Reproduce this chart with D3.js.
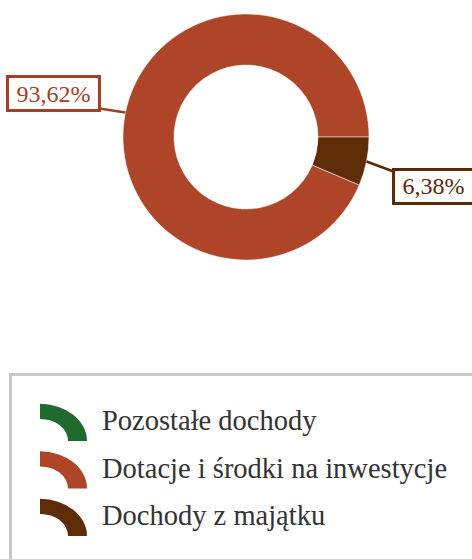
<!DOCTYPE html>
<html><head><meta charset="utf-8">
<script src="https://cdn.jsdelivr.net/npm/d3@7"></script>
<style>html,body{margin:0;padding:0;background:#fff;}svg{display:block;}</style>
</head><body>
<svg id="c" width="472" height="559"></svg>
<script>
const categories = ["Pozostałe dochody", "Dotacje i środki na inwestycje", "Dochody z majątku"];
const values = [0, 93.62, 6.38];
const labels = ["0,00%", "93,62%", "6,38%"];
const colors = ["#1f6a2f", "#ae4428", "#5e2d07"];
const textColors = ["#1f6a2f", "#a33f27", "#5a2a06"];

const svg = d3.select("#c");
const font = "'Liberation Serif','Times New Roman',serif";
const cx = 246, cy = 137, R = 123, r = 72;

const pie = d3.pie().sort(null).value(d => d).startAngle(2.5 * Math.PI).endAngle(0.5 * Math.PI);
const arcs = pie(values);
const arc = d3.arc().innerRadius(r).outerRadius(R);
const g = svg.append("g").attr("transform", `translate(${cx},${cy})`);
g.selectAll("path").data(arcs.filter(d => d.value > 0)).join("path")
  .attr("d", arc)
  .attr("fill", d => colors[d.index])
  .attr("stroke", "#fff").attr("stroke-opacity", 0.5).attr("stroke-width", 1);

// labels
const labelGap = 26;
arcs.forEach((d, i) => {
  if (d.value <= 0) return;
  const mid = (d.startAngle + d.endAngle) / 2;
  const px = Math.sin(mid) * R, py = -Math.cos(mid) * R;
  const right = Math.sin(mid) > 0;
  const fs = 24;
  const t = g.append("text").text(labels[i])
    .attr("font-family", font).attr("font-size", fs)
    .attr("fill", textColors[i]);
  const w = t.node().getComputedTextLength();
  const bw = w + 18, bh = 34;
  const ex = px + (right ? labelGap + 1 : -labelGap);
  const ey = py + (right ? 10 : -4);
  const bx = right ? ex : ex - bw;
  const by = right ? ey - 2 : ey - bh + 2;
  g.insert("line", "text").attr("x1", px).attr("y1", py).attr("x2", ex).attr("y2", ey)
    .attr("stroke", textColors[i]).attr("stroke-width", 2.5);
  g.insert("rect", "text").attr("x", bx).attr("y", by).attr("width", bw).attr("height", bh)
    .attr("fill", "#fff").attr("stroke", textColors[i]).attr("stroke-width", 3);
  t.attr("x", bx + bw / 2).attr("text-anchor", "middle").attr("y", by + bh / 2 + 8);
});

// legend
svg.append("rect").attr("x", 10.5).attr("y", 374.5).attr("width", 500).attr("height", 300)
  .attr("fill", "none").attr("stroke", "#c8c8c8").attr("stroke-width", 3);
const iconArc = d3.arc().innerRadius(28).outerRadius(47).startAngle(0).endAngle(Math.PI / 2);
const rowY = d3.scalePoint().domain(categories).range([441, 536]);
const lg = svg.append("g");
categories.forEach((c, i) => {
  const y = rowY(c);
  lg.append("path").attr("d", iconArc())
    .attr("transform", `translate(40,${y}) scale(1,0.79)`)
    .attr("fill", colors[i]);
  lg.append("text").text(c).attr("x", 102).attr("y", y - 11)
    .attr("font-family", font).attr("font-size", 28.5).attr("fill", "#333");
});
</script>
</body></html>
